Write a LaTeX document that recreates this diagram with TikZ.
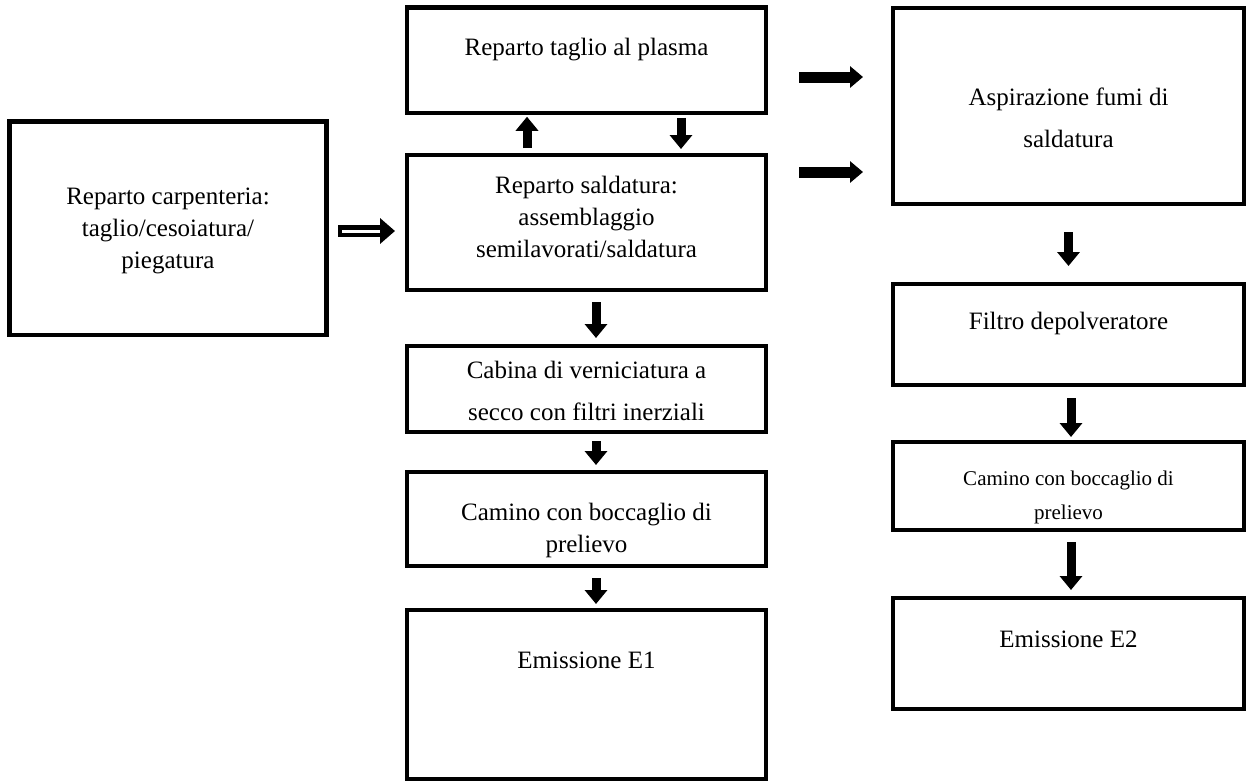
\documentclass[tikz,border=0pt]{standalone}
\usepackage{fontspec}
\setmainfont{Liberation Serif}
\usetikzlibrary{arrows.meta,calc}
\begin{document}
\begin{tikzpicture}[x=1pt,y=-1pt,
  box/.style={draw,line width=4.5pt,outer sep=0pt,inner sep=0pt,align=center,
    font=\fontsize{25}{32}\selectfont},
  lbl/.style={font=\fontsize{25}{32}\selectfont,inner sep=0pt,align=center},
  blk/.style={line width=9pt,-{Triangle[length=14pt,width=22pt]}},
  blkh/.style={line width=11pt,-{Triangle[length=13pt,width=21pt]}},
  dblout/.style={line width=12pt,-{Triangle[length=15pt,width=25pt]}},
  dblin/.style={line width=3pt,white}]
\useasboundingbox (0,0) rectangle (1247,782);
\node[box,minimum width=317,minimum height=213.5] (carp) at (168,228) {};
\node[lbl] (carpt) at (168,231) {Reparto carpenteria:\\taglio/cesoiatura/\\piegatura};
\node[box,minimum width=359,minimum height=105.5] (plasma) at (586.5,60) {};
\node[lbl] (plasmat) at (586.5,50) {Reparto taglio al plasma};
\node[box,minimum width=359,minimum height=135] (sald) at (586.5,222.5) {};
\node[lbl] (saldt) at (586.5,217) {Reparto saldatura:\\assemblaggio\\semilavorati/saldatura};
\node[box,minimum width=359,minimum height=86] (cab) at (586.5,389) {};
\node[lbl] (cabt) at (586.5,391) {Cabina di verniciatura a\\[10pt]secco con filtri inerziali};
\node[box,minimum width=359,minimum height=94] (cam1) at (586.5,519) {};
\node[lbl] (cam1t) at (586.5,530) {Camino con boccaglio di\\prelievo};
\node[box,minimum width=359,minimum height=169] (e1) at (586.5,694.5) {};
\node[lbl] (e1t) at (586.5,660) {Emissione E1};
\node[box,minimum width=351,minimum height=196] (asp) at (1068.5,106) {};
\node[lbl] (aspt) at (1068.5,118) {Aspirazione fumi di\\[10pt]saldatura};
\node[box,minimum width=351,minimum height=101] (filtro) at (1068.5,334.5) {};
\node[lbl] (filtrot) at (1068.5,323) {Filtro depolveratore};
\node[box,minimum width=351,minimum height=88] (cam2) at (1068.5,486) {};
\node[lbl,font=\fontsize{21}{34}\selectfont] (cam2t) at (1068.5,497) {Camino con boccaglio di\\prelievo};
\node[box,minimum width=351,minimum height=111] (e2) at (1068.5,653.5) {};
\node[lbl] (e2t) at (1068.5,639) {Emissione E2};
% double arrow
\coordinate (d1) at ($(carp.east)+(11.5,3)$);
\coordinate (d2) at ($(sald.west |- d1)+(-12,0)$);
\draw[dblout] (d1) -- (d2);
\draw[dblin] ($(d1)+(4,0)$) -- ($(d2)+(-15,0)$);
% plasma <-> saldatura
\draw[blk] ($(sald.north)+(-59.5,-7)$) -- ($(plasma.south)+(-59.5,4)$);
\draw[blk] ($(plasma.south)+(94.5,5)$) -- ($(sald.north)+(94.5,-6)$);
% to aspirazione
\draw[blkh] ($(plasma.east)+(33,17)$) -- ($(asp.west |- plasma.east)+(-30,17)$);
\draw[blkh] ($(sald.east)+(33,-50.5)$) -- ($(asp.west |- sald.east)+(-30,-50.5)$);
% left column
\draw[blk] ($(sald.south)+(9.5,12)$) -- ($(cab.north)+(9.5,-8)$);
\draw[blk] ($(cab.south)+(9.5,9)$) -- ($(cam1.north)+(9.5,-7)$);
\draw[blk] ($(cam1.south)+(9.5,12)$) -- ($(e1.north)+(9.5,-6)$);
% right column
\draw[blk] ($(asp.south)+(0,28)$) -- ($(filtro.north)+(0,-18)$);
\draw[blk] ($(filtro.south)+(2.5,13)$) -- ($(cam2.north)+(2.5,-5)$);
\draw[blk] ($(cam2.south)+(2.5,12)$) -- ($(e2.north)+(2.5,-8)$);
\end{tikzpicture}
\end{document}
